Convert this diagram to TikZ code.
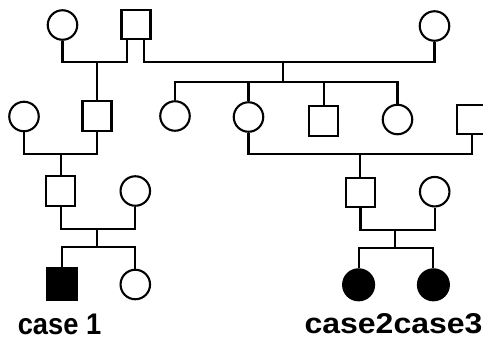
\documentclass[tikz,border=0pt]{standalone}
\usepackage{graphicx}
\usepackage{fontspec}
\setmainfont{Liberation Sans}
\begin{document}
\begin{tikzpicture}[x=1pt,y=-1pt,line width=2.1pt,
  fem/.style={circle,draw,minimum size=29.5pt,inner sep=0pt},
  mal/.style={rectangle,draw,minimum width=29pt,minimum height=29.5pt,inner sep=0pt},
  aff/.style={fill=black},
  lbl/.style={inner sep=0pt,anchor=base west,font=\bfseries}]
\useasboundingbox (0,0) rectangle (483,338);
\clip (0,0) rectangle (483,338);
% generation I
\node[fem] (I1) at (62.5,25) {};
\node[mal] (I2) at (136,24.5) {};
\node[fem] (I3) at (434.5,26) {};
% generation II
\node[fem] (II1) at (24,116.5) {};
\node[mal] (II2) at (97,116) {};
\node[fem] (II3) at (175,116) {};
\node[fem] (II4) at (248.5,117) {};
\node[mal] (II5) at (323.8,121) {};
\node[fem] (II6) at (397.5,119.5) {};
\node[mal] (II7) at (471.7,119.3) {};
% generation III
\node[mal] (III1) at (60.8,191) {};
\node[fem] (III2) at (135.3,191) {};
\node[mal] (III3) at (360.5,192.5) {};
\node[fem] (III4) at (434.7,191.7) {};
% generation IV
\node[mal,aff,minimum width=30pt,minimum height=31pt] (IV1) at (62,284) {};
\node[fem] (IV2) at (135.3,284.5) {};
\node[fem,aff,minimum size=31pt] (IV3) at (358.6,284.8) {};
\node[fem,aff,minimum size=31pt] (IV4) at (433.4,284.8) {};
% labels
\node[lbl] (t1) at (16.7,334) {\resizebox{83.5pt}{20.5pt}{case 1}};
\node[lbl] (t2) at (303.5,333.5) {\resizebox{178pt}{20pt}{case2case3}};
% level coordinates
\coordinate (L1) at (0,62.2);
\coordinate (L2) at (0,81.6);
\coordinate (L3) at (0,154);
\coordinate (L4a) at (0,229.3);
\coordinate (L5a) at (0,247.3);
\coordinate (L4b) at (0,230);
\coordinate (L5b) at (0,248.3);
\coordinate (I2a) at ([xshift=-9pt]I2.south);
\coordinate (I2b) at ([xshift=8.3pt]I2.south);
\coordinate (c1) at (283.3,62.2);
\coordinate (c2) at (61,154);
\coordinate (c3) at (360.2,154);
\coordinate (c4) at (97.3,229.3);
\coordinate (c5) at (395,230);
% generation I marriages
\draw (I1.south) |- (L1 -| I2a) -- (I2a);
\draw (I2b) |- (L1 -| I3.south) -- (I3.south);
\draw (II2.north) -- (II2.north |- L1);
% sibship of second marriage
\draw (c1) -- (c1 |- L2);
\draw (II3.north) |- (L2 -| II6.north) -- (II6.north);
\draw (II4.north) -- (II4.north |- L2);
\draw (II5.north) -- (II5.north |- L2);
% generation II marriages
\draw (II1.south) |- (L3 -| II2.south) -- (II2.south);
\draw (II4.south) |- (L3 -| II7.south) -- (II7.south);
\draw (c2) -- (c2 |- III1.north);
\draw (c3) -- (c3 |- III3.north);
% generation III marriages
\draw (III1.south) |- (L4a -| III2.south) -- (III2.south);
\draw (c4) -- (c4 |- L5a);
\draw (IV1.north) |- (L5a -| IV2.north) -- (IV2.north);
\draw (III3.south) |- (L4b -| III4.south) -- (III4.south);
\draw (c5) -- (c5 |- L5b);
\draw (IV3.north) |- (L5b -| IV4.north) -- (IV4.north);
\end{tikzpicture}
\end{document}
